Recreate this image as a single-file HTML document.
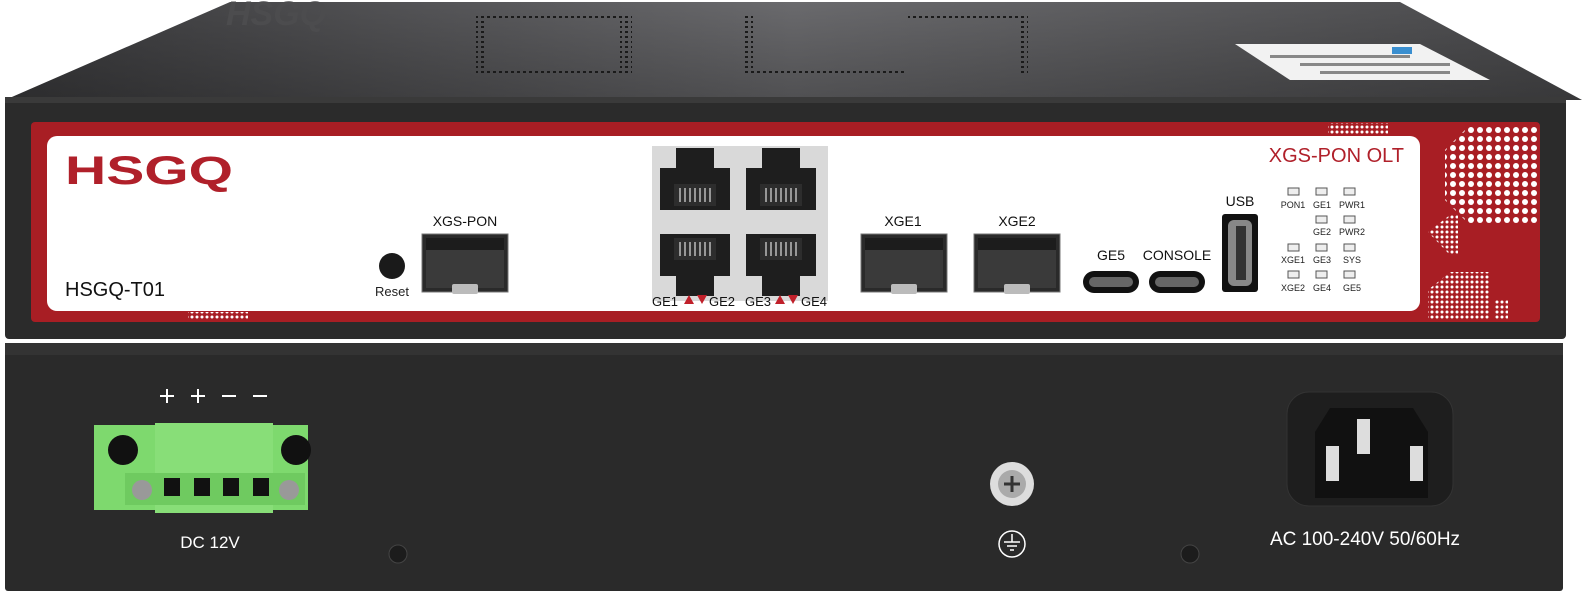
<!DOCTYPE html>
<html><head><meta charset="utf-8"><style>
html,body{margin:0;padding:0;background:#fff;}
svg{display:block;font-family:"Liberation Sans",Arial,sans-serif;}
</style></head><body>
<svg width="1586" height="599" viewBox="0 0 1586 599" xmlns="http://www.w3.org/2000/svg">
<defs>
<linearGradient id="lid" x1="0" y1="0" x2="1" y2="0">
<stop offset="0" stop-color="#3a3a3c"/><stop offset="0.5" stop-color="#6a6a6d"/><stop offset="1" stop-color="#4a4a4c"/>
</linearGradient>
<linearGradient id="lidv" x1="0" y1="0" x2="0" y2="1">
<stop offset="0" stop-color="#000" stop-opacity="0"/><stop offset="1" stop-color="#000" stop-opacity="0.25"/>
</linearGradient>
<pattern id="dots" width="6" height="5" patternUnits="userSpaceOnUse"><rect x="1" y="1" width="3" height="2" fill="#1a1a1a"/></pattern>
<pattern id="wd" width="9" height="9" patternUnits="userSpaceOnUse"><circle cx="4" cy="4" r="3" fill="#fff"/></pattern>
<pattern id="wds" width="5" height="5" patternUnits="userSpaceOnUse"><circle cx="2" cy="2" r="1.5" fill="#fff"/></pattern>
<g id="sfp">
<rect x="0" y="0" width="86" height="58" fill="#2a2a2a" stroke="#777" stroke-width="1"/>
<rect x="4" y="4" width="78" height="50" fill="#3a3a3a"/>
<rect x="4" y="4" width="78" height="12" fill="#1c1c1c"/>
<rect x="30" y="50" width="26" height="10" rx="2" fill="#bbb"/>
</g>
<g id="rj">
<path d="M4 20 H20 V0 H58 V20 H74 V62 H4 Z" fill="#1e1e1e"/>
<rect x="18" y="36" width="42" height="22" fill="#2d2d2d"/>
<g stroke="#bbb" stroke-width="1.5"><line x1="24" y1="40" x2="24" y2="54"/><line x1="29" y1="40" x2="29" y2="54"/><line x1="34" y1="40" x2="34" y2="54"/><line x1="39" y1="40" x2="39" y2="54"/><line x1="44" y1="40" x2="44" y2="54"/><line x1="49" y1="40" x2="49" y2="54"/><line x1="54" y1="40" x2="54" y2="54"/></g>
</g>
<g id="led"><rect x="0" y="0" width="11" height="7" fill="#eee" stroke="#555" stroke-width="1"/></g>
</defs>

<path d="M5 100 L230 2 L1400 2 L1582 100 Z" fill="url(#lid)"/>
<path d="M5 100 L230 2 L1400 2 L1582 100 Z" fill="url(#lidv)"/>
<text x="226" y="25" font-size="34" font-weight="bold" font-style="italic" fill="#4c4c4e">HSGQ</text>
<g fill="url(#dots)">
<rect x="480" y="15" width="150" height="4"/><rect x="480" y="71" width="150" height="4"/>
<rect x="476" y="15" width="10" height="60"/><rect x="620" y="15" width="12" height="60"/>
<rect x="745" y="15" width="8" height="60"/><rect x="745" y="71" width="160" height="4"/>
<rect x="908" y="15" width="120" height="4"/><rect x="1020" y="15" width="8" height="60"/>
</g>
<path d="M1235 44 L1420 44 L1490 80 L1290 80 Z" fill="#f2f2f2"/>
<g fill="#888"><rect x="1270" y="55" width="140" height="3"/><rect x="1300" y="63" width="150" height="3"/><rect x="1320" y="71" width="130" height="3"/></g>
<rect x="1392" y="47" width="20" height="7" fill="#3a8fd0"/>

<rect x="5" y="97" width="1561" height="242" rx="4" fill="#2b2b2b"/>
<rect x="5" y="97" width="1561" height="6" fill="#3a3a3a"/>
<rect x="31" y="122" width="1509" height="200" rx="4" fill="#a81e24"/>
<rect x="47" y="136" width="1373" height="175" rx="10" fill="#fff"/>
<rect x="188" y="312" width="60" height="8" fill="url(#wds)"/>
<rect x="1328" y="123" width="60" height="12" fill="url(#wds)"/>
<path d="M1445 150 L1470 125 L1538 125 L1538 225 L1470 225 L1445 200 Z" fill="url(#wd)"/>
<path d="M1428 232 L1450 215 L1458 215 L1458 255 L1450 255 Z" fill="url(#wds)"/>
<path d="M1428 290 L1450 272 L1490 272 L1490 320 L1428 320 Z" fill="url(#wds)"/>
<path d="M1495 300 L1508 300 L1508 320 L1495 320 Z" fill="url(#wds)"/>

<text x="65" y="184" font-size="40" font-weight="bold" fill="#b0202a" textLength="168" lengthAdjust="spacingAndGlyphs">HSGQ</text>
<text x="65" y="296" font-size="20" fill="#111">HSGQ-T01</text>
<circle cx="392" cy="266" r="13" fill="#1a1a1a"/>
<text x="392" y="296" font-size="13" text-anchor="middle" fill="#222">Reset</text>
<text x="465" y="226" font-size="14" text-anchor="middle" fill="#111">XGS-PON</text>
<use href="#sfp" x="422" y="234"/>

<rect x="652" y="146" width="176" height="155" fill="#d9d9d9"/>
<use href="#rj" x="656" y="148"/><use href="#rj" x="742" y="148"/>
<use href="#rj" transform="translate(656,296) scale(1,-1)"/><use href="#rj" transform="translate(742,296) scale(1,-1)"/>
<text x="652" y="306" font-size="13" fill="#111">GE1</text>
<path d="M684 304 L689 295 L694 304 Z M697 295 L707 295 L702 304 Z" fill="#c0202a"/>
<text x="709" y="306" font-size="13" fill="#111">GE2</text>
<text x="745" y="306" font-size="13" fill="#111">GE3</text>
<path d="M775 304 L780 295 L785 304 Z M788 295 L798 295 L793 304 Z" fill="#c0202a"/>
<text x="801" y="306" font-size="13" fill="#111">GE4</text>

<text x="903" y="226" font-size="14" text-anchor="middle" fill="#111">XGE1</text>
<use href="#sfp" x="861" y="234"/>
<text x="1017" y="226" font-size="14" text-anchor="middle" fill="#111">XGE2</text>
<use href="#sfp" x="974" y="234"/>

<text x="1111" y="260" font-size="14" text-anchor="middle" fill="#111">GE5</text>
<rect x="1083" y="271" width="56" height="22" rx="11" fill="#111"/><rect x="1089" y="277" width="44" height="10" rx="5" fill="#666"/>
<text x="1177" y="260" font-size="14" text-anchor="middle" fill="#111">CONSOLE</text>
<rect x="1149" y="271" width="56" height="22" rx="11" fill="#111"/><rect x="1155" y="277" width="44" height="10" rx="5" fill="#666"/>
<text x="1240" y="206" font-size="14" text-anchor="middle" fill="#111">USB</text>
<rect x="1222" y="214" width="36" height="78" rx="3" fill="#111"/><rect x="1228" y="220" width="24" height="66" rx="6" fill="#888"/><rect x="1236" y="226" width="10" height="54" fill="#333"/>

<g font-size="9" fill="#222" text-anchor="middle">
<use href="#led" x="1288" y="188"/><use href="#led" x="1316" y="188"/><use href="#led" x="1344" y="188"/>
<text x="1293" y="208">PON1</text><text x="1322" y="208">GE1</text><text x="1352" y="208">PWR1</text>
<use href="#led" x="1316" y="216"/><use href="#led" x="1344" y="216"/>
<text x="1322" y="235">GE2</text><text x="1352" y="235">PWR2</text>
<use href="#led" x="1288" y="244"/><use href="#led" x="1316" y="244"/><use href="#led" x="1344" y="244"/>
<text x="1293" y="263">XGE1</text><text x="1322" y="263">GE3</text><text x="1352" y="263">SYS</text>
<use href="#led" x="1288" y="271"/><use href="#led" x="1316" y="271"/><use href="#led" x="1344" y="271"/>
<text x="1293" y="291">XGE2</text><text x="1322" y="291">GE4</text><text x="1352" y="291">GE5</text>
</g>
<text x="1404" y="162" font-size="20" text-anchor="end" fill="#b0202a">XGS-PON OLT</text>

<rect x="5" y="343" width="1558" height="248" rx="3" fill="#2a2a2a"/>
<rect x="5" y="343" width="1558" height="12" fill="#333"/>
<g fill="none" stroke="#fff" stroke-width="2">
<path d="M160 396 h14 M167 389 v14 M191 396 h14 M198 389 v14 M222 396 h14 M253 396 h14"/>
</g>
<rect x="94" y="425" width="214" height="85" fill="#7ed96e"/>
<rect x="155" y="423" width="118" height="90" fill="#88de78"/>
<rect x="125" y="473" width="180" height="32" fill="#6fca60"/>
<circle cx="123" cy="450" r="15" fill="#111"/><circle cx="296" cy="450" r="15" fill="#111"/>
<circle cx="142" cy="490" r="10" fill="#999"/><circle cx="289" cy="490" r="10" fill="#999"/>
<g fill="#111"><rect x="164" y="478" width="16" height="18"/><rect x="194" y="478" width="16" height="18"/><rect x="223" y="478" width="16" height="18"/><rect x="253" y="478" width="16" height="18"/></g>
<text x="210" y="548" font-size="17" text-anchor="middle" fill="#fff">DC  12V</text>

<circle cx="1012" cy="484" r="22" fill="#ddd"/><circle cx="1012" cy="484" r="14" fill="#aaa"/>
<path d="M1004 484 h16 M1012 476 v16" stroke="#333" stroke-width="3"/>
<circle cx="1012" cy="544" r="13" fill="none" stroke="#fff" stroke-width="1.5"/>
<path d="M1012 534 v8 M1004 542 h16 M1007 546 h10 M1010 550 h4" stroke="#fff" stroke-width="1.5"/>
<circle cx="398" cy="554" r="9" fill="#1c1c1c" stroke="#444"/>
<circle cx="1190" cy="554" r="9" fill="#1c1c1c" stroke="#444"/>

<rect x="1287" y="392" width="166" height="114" rx="22" fill="#1e1e1e" stroke="#333"/>
<path d="M1315 432 L1330 408 L1413 408 L1428 432 L1428 498 L1315 498 Z" fill="#111"/>
<g fill="#ddd"><rect x="1357" y="419" width="13" height="35"/><rect x="1326" y="446" width="13" height="35"/><rect x="1410" y="446" width="13" height="35"/></g>
<text x="1365" y="545" font-size="19" text-anchor="middle" fill="#fff">AC 100-240V 50/60Hz</text>
</svg>
</body></html>
